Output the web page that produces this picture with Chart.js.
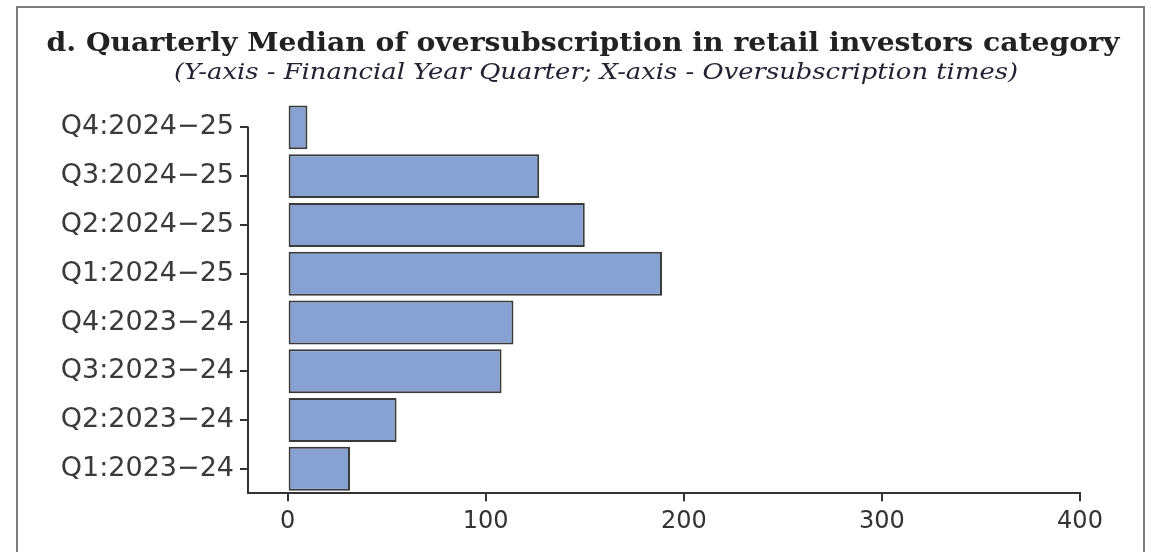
<!DOCTYPE html>
<html>
<head>
<meta charset="utf-8">
<script src="https://cdn.jsdelivr.net/npm/chart.js@4/dist/chart.umd.min.js"></script>
<style>
  html, body { margin: 0; padding: 0; background: #fff; }
  #wrap { position: relative; width: 1151px; height: 552px; overflow: hidden; }
  #frame { position: absolute; left: 16px; top: 6px; width: 1129px; height: 600px; border: 2px solid #7d7d7d; box-sizing: border-box; }
  #chart { position: absolute; left: 0; top: 0; }
</style>
</head>
<body>
<div id="wrap">
  <div id="frame"></div>
  <canvas id="chart" width="1151" height="552"></canvas>
</div>
<script>
// quarters, top to bottom as drawn
const quarters = ['Q4:2024\u221225', 'Q3:2024\u221225', 'Q2:2024\u221225', 'Q1:2024\u221225',
                  'Q4:2023\u221224', 'Q3:2023\u221224', 'Q2:2023\u221224', 'Q1:2023\u221224'];
// median oversubscription (times)
const medianTimes = [10, 127, 150, 189, 114, 108, 55, 31.5];
const xTicks = [0, 100, 200, 300, 400];

const titleText = 'd. Quarterly Median of oversubscription in retail investors category';
const subtitleText = '(Y-axis - Financial Year Quarter; X-axis - Oversubscription times)';

const axisColor = '#333333';

// title + subtitle, stretched a bit sideways so the wide serif of the original is matched
function drawHeading(ctx, text, font, color, cx, cy, targetW) {
    ctx.save();
    ctx.font = font;
    ctx.fillStyle = color;
    ctx.textAlign = 'center';
    ctx.textBaseline = 'middle';
    let w = ctx.measureText(text).width;
    let sx = targetW / w;
    ctx.translate(cx, cy);
    ctx.scale(sx, 1);
    ctx.fillText(text, 0, 0);
    ctx.restore();
}

const headings = {
    id: 'headings',
    afterDraw(chart) {
        let ctx = chart.ctx;
        drawHeading(ctx, titleText, 'bold 26px "DejaVu Serif"', '#222222', 583, 44, 1073);
        drawHeading(ctx, subtitleText, 'italic 22px "DejaVu Serif"', '#222233', 596, 73, 844);
    }
};

// y axis line only runs from the first category tick down to the x axis
const yAxisLine = {
    id: 'yAxisLine',
    afterDraw(chart) {
        let ys = chart.scales.y;
        let ctx = chart.ctx;
        let x = chart.chartArea.left;
        ctx.save();
        ctx.strokeStyle = axisColor;
        ctx.lineWidth = 2;
        ctx.beginPath();
        ctx.moveTo(x, ys.getPixelForTick(0) - 1);
        ctx.lineTo(x, chart.chartArea.bottom);
        ctx.stroke();
        ctx.restore();
    }
};

new Chart(document.getElementById('chart'), {
    type: 'bar',
    data: {
        labels: quarters,
        datasets: [{
            data: medianTimes,
            backgroundColor: '#87a1d3',
            borderColor: '#3a3a3a',
            borderWidth: 2,
            borderSkipped: false,
            barPercentage: 0.9,
            categoryPercentage: 1
        }]
    },
    options: {
        indexAxis: 'y',
        responsive: false,
        animation: false,
        devicePixelRatio: 1,
        layout: { padding: { left: 0, right: 71, top: 103, bottom: 10 } },
        plugins: {
            legend: { display: false },
            tooltip: { enabled: false },
            title: { display: false }
        },
        scales: {
            x: {
                type: 'linear',
                min: -20,
                max: 400,
                afterBuildTicks(scale) {
                    scale.ticks = xTicks.map(v => ({ value: v }));
                },
                grid: {
                    drawOnChartArea: false,
                    drawTicks: true,
                    tickLength: 8,
                    color: axisColor,
                    lineWidth: 2
                },
                border: { display: true, color: axisColor, width: 2 },
                ticks: {
                    color: '#333333',
                    padding: 6,
                    font: { family: 'DejaVu Sans', size: 24 }
                }
            },
            y: {
                afterFit(scale) {
                    scale.width = 248;
                },
                grid: {
                    offset: false,
                    drawOnChartArea: false,
                    drawTicks: true,
                    tickLength: 8,
                    color: axisColor,
                    lineWidth: 2
                },
                border: { display: false },
                ticks: {
                    color: '#3a3a3a',
                    padding: 6,
                    font: { family: 'DejaVu Sans', size: 27 }
                }
            }
        }
    },
    plugins: [yAxisLine, headings]
});
</script>
</body>
</html>
